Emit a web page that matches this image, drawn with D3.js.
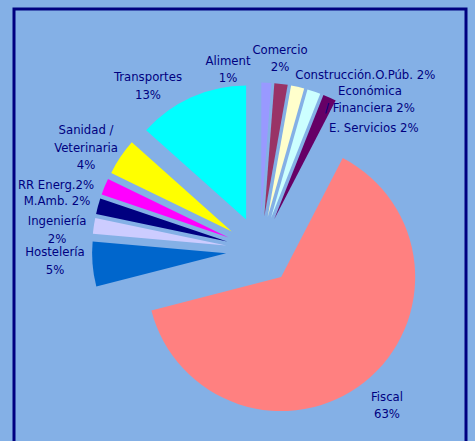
<!DOCTYPE html>
<html>
<head>
<meta charset="utf-8">
<script src="https://cdn.jsdelivr.net/npm/d3@7"></script>
<style>
  html, body { margin: 0; padding: 0; background: #84b0e6; overflow: hidden; }
  svg { display: block; }
</style>
</head>
<body>
<div id="wrapper"></div>
<script>
// sectores (orden de las agujas del reloj desde las 12)
var sectores = ["Aliment", "Comercio", "Construcción.O.Púb.", "Económica / Financiera", "E. Servicios",
  "Fiscal", "Hostelería", "Ingeniería", "M.Amb.", "RR Energ.", "Sanidad / Veterinaria", "Transportes"];
var valores = [1.2, 1.6, 1.6, 1.6, 1.6, 63.4, 5.4, 1.9, 1.9, 2.0, 4.4, 13.4];
var colores = ["#9999ff", "#993366", "#ffffcc", "#ccffff", "#660066", "#ff8080",
  "#0066cc", "#ccccff", "#000080", "#ff00ff", "#ffff00", "#00ffff"];
// lineas de cada etiqueta; {p} = porcentaje
var etiquetas = [
  ["Aliment", "{p}"],
  ["Comercio", "{p}"],
  ["Construcción.O.Púb. {p}"],
  ["Económica", "/ Financiera {p}"],
  ["E. Servicios {p}"],
  ["Fiscal", "{p}"],
  ["Hostelería", "{p}"],
  ["Ingeniería", "{p}"],
  ["M.Amb. {p}"],
  ["RR Energ.{p}"],
  ["Sanidad /", "Veterinaria", "{p}"],
  ["Transportes", "{p}"]
];
// ajuste manual de etiquetas (como en Excel)
var ajuste = [[-38.6,-6.6],[-1.9,-18.9],[66,-6],[53.8,13.9],[41.3,36.5],[18,17.6],
  [-30.6,-4.3],[-29.9,4.7],[-34.2,-3.6],[-42.1,0],[-28.6,-6],[-40.5,-5.3]];

var W = 475, H = 441;
var cx = 260, cy = 250.5, r = 134, explota = 34, rEtiq = 175, lh = 17.3;

var svg = d3.select('#wrapper').append('svg')
  .attr('width', W).attr('height', H);

svg.append('rect')
  .attr('x', 14).attr('y', 9).attr('width', 452).attr('height', 600)
  .style('fill', 'none').style('stroke', '#000080').style('stroke-width', 3);

var total = d3.sum(valores);
var pie = d3.pie().sort(null).value(function(d){ return d; });
var arcos = pie(valores);
var arc = d3.arc().innerRadius(0).outerRadius(r);

var g = svg.append('g').attr('transform', 'translate(' + cx + ',' + cy + ')');

g.selectAll('path')
  .data(arcos)
  .enter()
  .append('path')
  .attr('d', arc)
  .attr('transform', function(d){
    var m = (d.startAngle + d.endAngle) / 2;
    return 'translate(' + (explota * Math.sin(m)) + ',' + (-explota * Math.cos(m)) + ')';
  })
  .style('fill', function(d, i){ return colores[i]; });

var lab = g.selectAll('text')
  .data(arcos)
  .enter()
  .append('text')
  .attr('text-anchor', 'middle')
  .style('font-family', '"DejaVu Sans Condensed", "DejaVu Sans", sans-serif')
  .style('font-stretch', 'condensed')
  .style('font-size', '13px')
  .style('fill', '#000080')
  .attr('transform', function(d, i){
    var m = (d.startAngle + d.endAngle) / 2;
    var x = rEtiq * Math.sin(m) + ajuste[i][0];
    var y = -rEtiq * Math.cos(m) + ajuste[i][1];
    return 'translate(' + x + ',' + y + ')';
  });

lab.each(function(d, i){
  var p = Math.round(d.value / total * 100) + '%';
  var lineas = etiquetas[i];
  var t = d3.select(this);
  lineas.forEach(function(s, k){
    t.append('tspan')
      .attr('x', 0)
      .attr('y', (k - (lineas.length - 1) / 2) * lh)
      .attr('dy', '0.35em')
      .text(s.replace('{p}', p));
  });
});
</script>
</body>
</html>
